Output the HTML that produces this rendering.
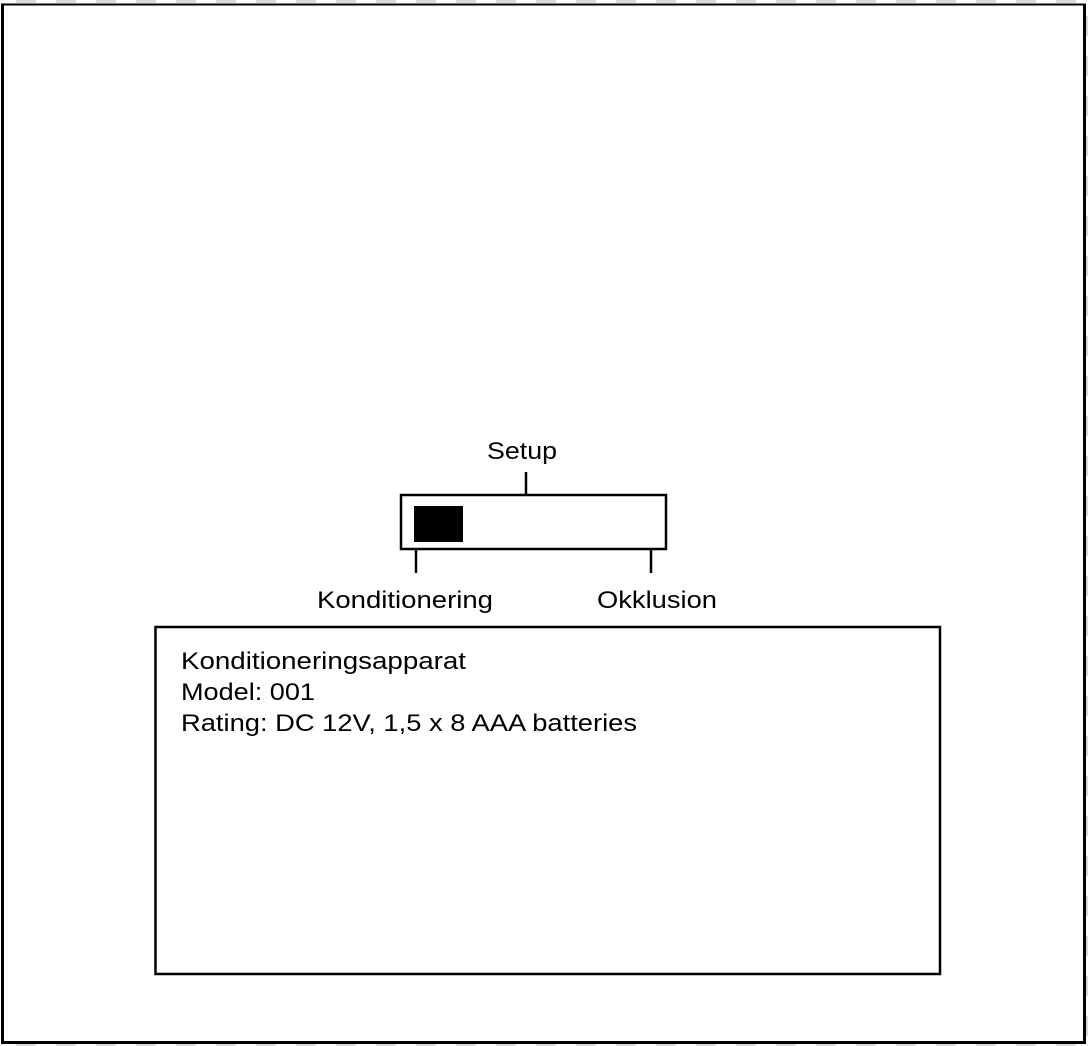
<!DOCTYPE html>
<html><head><style>
html,body{margin:0;padding:0;background:#fff;}
svg{display:block;}
text{font-family:"Liberation Sans",sans-serif;font-size:24px;fill:#000;}
</style></head><body>
<svg width="1088" height="1046" viewBox="0 0 1088 1046">
<line x1="16" y1="1.5" x2="1088" y2="1.5" stroke="#d9d9d9" stroke-width="3" stroke-dasharray="20 20"/>
<line x1="16" y1="1044.5" x2="1088" y2="1044.5" stroke="#d9d9d9" stroke-width="3" stroke-dasharray="20 20"/>
<line x1="1087" y1="16" x2="1087" y2="1046" stroke="#d9d9d9" stroke-width="2" stroke-dasharray="20 20"/>
<line x1="2.5" y1="4" x2="2.5" y2="1043" stroke="#000" stroke-width="3"/>
<line x1="1" y1="4.5" x2="1086" y2="4.5" stroke="#000" stroke-width="2"/>
<line x1="1084.5" y1="4" x2="1084.5" y2="1043" stroke="#000" stroke-width="3"/>
<line x1="1" y1="1042.5" x2="1086" y2="1042.5" stroke="#000" stroke-width="3"/>
<rect x="401" y="495" width="265" height="54" fill="none" stroke="#000" stroke-width="2.5"/>
<rect x="414" y="506" width="49" height="36" fill="#000"/>
<line x1="526" y1="472" x2="526" y2="495" stroke="#000" stroke-width="2.5"/>
<line x1="416" y1="549" x2="416" y2="573" stroke="#000" stroke-width="2.5"/>
<line x1="651" y1="549" x2="651" y2="573" stroke="#000" stroke-width="2.5"/>
<text x="487" y="459" textLength="70" lengthAdjust="spacingAndGlyphs">Setup</text>
<text x="317" y="608" textLength="176" lengthAdjust="spacingAndGlyphs">Konditionering</text>
<text x="597" y="608" textLength="120" lengthAdjust="spacingAndGlyphs">Okklusion</text>
<rect x="155.5" y="627" width="784.5" height="347" fill="none" stroke="#000" stroke-width="2.5"/>
<text x="181" y="669" textLength="285" lengthAdjust="spacingAndGlyphs">Konditioneringsapparat</text>
<text x="181" y="700" textLength="134" lengthAdjust="spacingAndGlyphs">Model: 001</text>
<text x="181" y="731" textLength="456" lengthAdjust="spacingAndGlyphs">Rating: DC 12V, 1,5 x 8 AAA batteries</text>
</svg>
</body></html>
